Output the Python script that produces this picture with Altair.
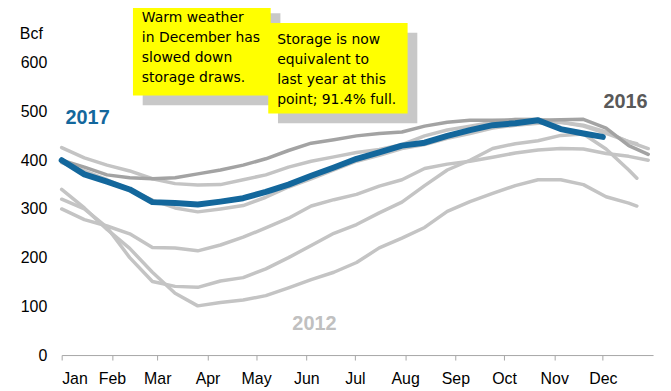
import altair as alt
import pandas as pd

MONTHS = ["Jan", "Feb", "Mar", "Apr", "May", "Jun", "Jul", "Aug", "Sep", "Oct", "Nov", "Dec"]
MONTH_START = [0, 31, 59, 90, 120, 151, 181, 212, 243, 273, 304, 334]
Y_TICKS = [0, 100, 200, 300, 400, 500, 600]

# sample days (day of year), every two weeks
DAYS = [0, 14, 28, 42, 56, 70, 84, 98, 112, 126, 140, 154, 168, 182, 196, 210,
        224, 238, 252, 266, 280, 294, 308, 322, 336, 350]

# 2017 (blue), ends early December
DAYS_2017 = DAYS[:24] + [334]
VAL_2017 = [400, 371, 356, 340, 314, 312, 309, 315, 322, 335, 350, 368, 385, 403, 416, 430,
            436, 450, 462, 472, 476, 482, 464, 455, 448]

# 2016 (dark gray)
DAYS_2016 = DAYS + [362]
VAL_2016 = [400, 386, 370, 364, 362, 364, 372, 380, 390, 403, 420, 435, 442, 450, 455, 458,
            470, 478, 482, 482, 483, 482, 483, 484, 466, 430, 412]

# other years (light gray)
DAYS_B = DAYS + [355]
VAL_B = [426, 405, 390, 378, 362, 352, 349, 350, 360, 370, 386, 398, 407, 416, 422, 432,
         450, 462, 470, 478, 484, 484, 478, 470, 455, 438, 434]

DAYS_G = DAYS + [362]
VAL_G = [395, 378, 360, 340, 318, 302, 294, 300, 307, 324, 345, 362, 380, 398, 410, 424,
         432, 445, 455, 466, 472, 476, 478, 472, 458, 438, 424]

DAYS_C = DAYS + [362]
VAL_C = [300, 278, 265, 249, 221, 220, 214, 226, 242, 261, 281, 306, 319, 330, 347, 360,
         383, 392, 398, 406, 415, 421, 424, 423, 414, 408, 400]

DAYS_E = DAYS + [355]
VAL_E = [320, 300, 262, 200, 151, 141, 139, 152, 159, 177, 200, 225, 250, 268, 292, 314,
         348, 380, 400, 424, 434, 440, 451, 454, 423, 380, 363]

DAYS_D = DAYS + [355]
VAL_D = [340, 302, 258, 219, 170, 127, 101, 108, 113, 122, 138, 155, 170, 190, 220, 240,
         262, 295, 315, 332, 348, 360, 360, 350, 325, 312, 306]

LIGHT = {"2012": (DAYS_D, VAL_D), "2013": (DAYS_G, VAL_G), "2014": (DAYS_E, VAL_E),
         "2015": (DAYS_B, VAL_B), "2011": (DAYS_C, VAL_C)}


def frame(series):
    rows = []
    for name, (days, vals) in series.items():
        for d, v in zip(days, vals):
            rows.append({"year": name, "day": d, "bcf": v})
    return pd.DataFrame(rows)


light_df = frame(LIGHT)
dark_df = frame({"2016": (DAYS_2016, VAL_2016)})
blue_df = frame({"2017": (DAYS_2017, VAL_2017)})

# annotation boxes (data coordinates)
BOX_X = [44, 127.5]
BOX_X2 = [129, 213.5]
BOX_Y = [722, 682]
BOX_Y2 = [533, 496]
SHADOW_DX = 6
SHADOW_DY = -20
NOTE_TEXT = [["Warm weather", "in December has", "slowed down", "storage draws."],
             ["Storage is now", "equivalent to", "last year at this", "point; 91.4% full."]]
NOTE_X = [49.5, 133]
NOTE_Y = [706, 661]

LABELS = ["2017", "2016", "2012"]
LABEL_X = [16, 348, 156]
LABEL_Y = [486, 520, 63]
LABEL_COLORS = ["#13679c", "#595959", "#c0c0c0"]

BLUE = "#13679c"
LIGHT_GRAY = "#c4c4c4"
DARK_GRAY = "#a3a3a3"
FONT = "Liberation Sans"

label_expr = "[" + ",".join("'%s'" % m for m in MONTHS) + "][indexof([" + \
    ",".join(str(s) for s in MONTH_START) + "], datum.value)]"

xscale = alt.Scale(domain=[0, 365], nice=False, zero=False)
yscale = alt.Scale(domain=[0, 600], nice=False)

x_enc = alt.X("day:Q", scale=xscale, title=None,
              axis=alt.Axis(values=MONTH_START, labelExpr=label_expr, grid=False,
                            domainColor="#a6a6a6", tickColor="#a6a6a6", tickSize=5,
                            labelPadding=11, labelFontSize=16, labelColor="#000000",
                            labelFont=FONT, labelAngle=0))
y_enc = alt.Y("bcf:Q", scale=yscale, title="Bcf",
              axis=alt.Axis(values=Y_TICKS, grid=False, domain=False, ticks=False,
                            labelPadding=15, labelFontSize=16, labelColor="#000000",
                            labelFont=FONT, titleAngle=0, titleX=-31, titleY=-29,
                            titleAlign="center", titleBaseline="middle",
                            titleFontSize=16, titleFontWeight="normal", titleFont=FONT,
                            titleColor="#000000"))

light = alt.Chart(light_df).mark_line(color=LIGHT_GRAY, strokeWidth=3.5,
                                      strokeJoin="round", strokeCap="round").encode(
    x=x_enc, y=y_enc, detail="year:N")
dark = alt.Chart(dark_df).mark_line(color=DARK_GRAY, strokeWidth=3.5,
                                    strokeJoin="round", strokeCap="round").encode(
    x="day:Q", y="bcf:Q")
blue = alt.Chart(blue_df).mark_line(color=BLUE, strokeWidth=6,
                                    strokeJoin="round", strokeCap="round").encode(
    x="day:Q", y="bcf:Q")

lab_df = pd.DataFrame({"t": LABELS, "day": LABEL_X, "bcf": LABEL_Y, "c": LABEL_COLORS})
labels = alt.Chart(lab_df).mark_text(fontSize=20, fontWeight="bold", font=FONT).encode(
    x="day:Q", y="bcf:Q", text="t:N", color=alt.Color("c:N", scale=None))

layers = [light, dark, blue, labels]
for i in range(2):
    sh = pd.DataFrame({"x": [BOX_X[i] + SHADOW_DX], "x2": [BOX_X2[i] + SHADOW_DX],
                       "y": [BOX_Y[i] + SHADOW_DY], "y2": [BOX_Y2[i] + SHADOW_DY]})
    bx = pd.DataFrame({"x": [BOX_X[i]], "x2": [BOX_X2[i]], "y": [BOX_Y[i]], "y2": [BOX_Y2[i]]})
    layers.append(alt.Chart(sh).mark_rect(color="#c8c8c8").encode(
        x="x:Q", x2="x2:Q", y="y:Q", y2="y2:Q"))
    layers.append(alt.Chart(bx).mark_rect(color="#ffff00").encode(
        x="x:Q", x2="x2:Q", y="y:Q", y2="y2:Q"))
    tx = pd.DataFrame({"day": [NOTE_X[i]], "bcf": [NOTE_Y[i]], "t": [NOTE_TEXT[i]]})
    layers.append(alt.Chart(tx).mark_text(align="left", baseline="top", fontSize=14,
                                          lineHeight=20, font="DejaVu Sans",
                                          color="#000000").encode(
        x="day:Q", y="bcf:Q", text="t"))

chart = alt.layer(*layers).properties(
    width=595, height=294,
    autosize=alt.AutoSizeParams(type="none"),
    padding={"left": 54, "top": 54, "right": 10, "bottom": 36},
).configure_view(stroke=None)

chart.save("out.html", embed_options={"renderer": "svg", "actions": False})
